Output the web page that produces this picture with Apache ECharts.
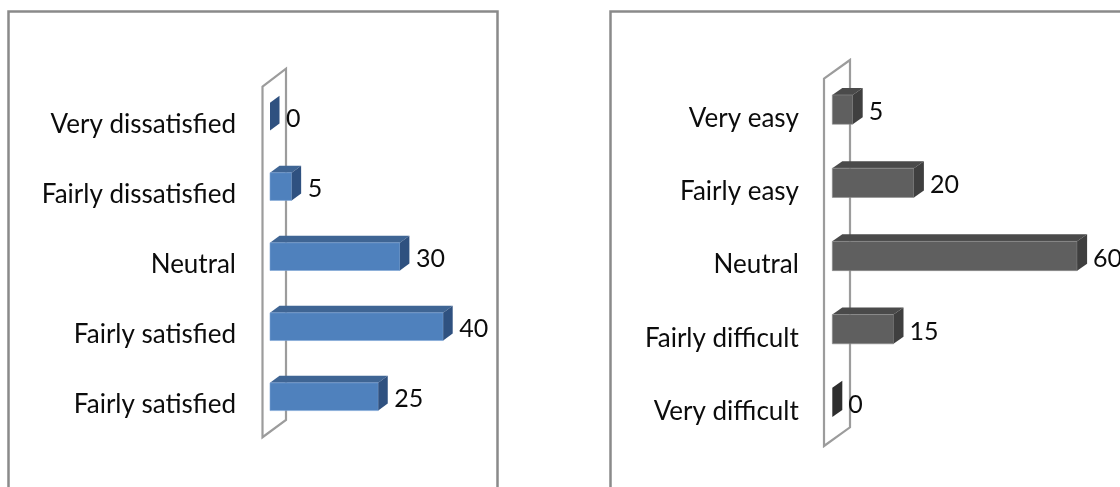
<!DOCTYPE html>
<html>
<head>
<meta charset="utf-8">
<style>
  html, body { margin: 0; padding: 0; background: #ffffff; }
  #chart { width: 1120px; height: 487px; }
</style>
<script src="https://cdn.jsdelivr.net/npm/echarts@6/dist/echarts.min.js"></script>
</head>
<body>
<div id="chart"></div>
<script>
// Satisfaction responses, listed from the top bar downwards
const satisfactionLabels = ['Very dissatisfied', 'Fairly dissatisfied', 'Neutral', 'Fairly satisfied', 'Fairly satisfied'];
const satisfactionValues = [0, 5, 30, 40, 25];

// Ease-of-use responses, listed from the top bar downwards
const easeLabels = ['Very easy', 'Fairly easy', 'Neutral', 'Fairly difficult', 'Very difficult'];
const easeValues = [5, 20, 60, 15, 0];

const FONT = 'Lato, Carlito, "Open Sans", sans-serif';
const CATEGORY_SIZE = 26;
const VALUE_SIZE = 25;
const INK = '#0c0c0c';
const WALL_COLOR = '#9c9c9c';
const FRAME_COLOR = '#8a8a8a';

const blueBars = { front: '#4f81bd', top: '#3f6594', side: '#2f5180', flat: '#2f5180', edge: '#7ea6d6' };
const greyBars = { front: '#5f5f5f', top: '#4a4a4a', side: '#3f3f3f', flat: '#2e2e2e', edge: '#8f8f8f' };

// Thin vertical "wall" the bars grow out of, sized from the plot rectangle
function wallSeries(gridIndex, wall) {
  return {
    type: 'custom',
    xAxisIndex: gridIndex,
    yAxisIndex: gridIndex,
    silent: true,
    z: 1,
    data: [[0, 0]],
    renderItem(params) {
      const r = params.coordSys;
      const fx = r.x + wall.front[0];
      const bx = r.x + wall.back[0];
      const fTop = r.y + wall.front[1];
      const bTop = r.y + wall.back[1];
      const fBot = r.y + r.height + wall.front[2];
      const bBot = r.y + r.height + wall.back[2];
      return {
        type: 'polygon',
        shape: { points: [[fx, fTop], [bx, bTop], [bx, bBot], [fx, fBot]] },
        style: { fill: '#ffffff', stroke: WALL_COLOR, lineWidth: 2.2 }
      };
    }
  };
}

// Extruded horizontal bars with a value label past the side face
function barSeries(gridIndex, values, palette, depth) {
  return {
    type: 'custom',
    xAxisIndex: gridIndex,
    yAxisIndex: gridIndex,
    silent: true,
    z: 2,
    encode: { x: 0, y: 1 },
    data: values.map((v, i) => [v, i]),
    renderItem(params, api) {
      const value = api.value(0);
      const base = api.coord([0, api.value(1)]);
      const tip = api.coord([value, api.value(1)]);
      const h = api.size([0, 1])[1] * depth.thickness;
      const y0 = base[1] - h / 2;
      const y1 = base[1] + h / 2;
      const x0 = base[0];
      const x1 = tip[0];
      const dx = depth.dx;
      const dy = depth.dy;
      const children = [];
      if (value > 0) {
        children.push({
          type: 'polygon',
          shape: { points: [[x0, y0], [x0 + dx, y0 + dy], [x1 + dx, y0 + dy], [x1, y0]] },
          style: { fill: palette.top }
        });
        children.push({
          type: 'rect',
          shape: { x: x0, y: y0, width: x1 - x0, height: y1 - y0 },
          style: { fill: palette.front, stroke: palette.edge, lineWidth: 0.6 }
        });
      }
      children.push({
        type: 'polygon',
        shape: { points: [[x1, y0], [x1 + dx, y0 + dy], [x1 + dx, y1 + dy], [x1, y1]] },
        style: { fill: value > 0 ? palette.side : palette.flat }
      });
      children.push({
        type: 'text',
        style: {
          text: String(value),
          x: x1 + dx + depth.labelGap,
          y: base[1] + depth.labelDrop,
          fill: INK,
          fontFamily: FONT,
          fontSize: VALUE_SIZE,
          align: 'left',
          verticalAlign: 'middle',
          textAlign: 'left',
          textVerticalAlign: 'middle'
        }
      });
      return { type: 'group', children };
    }
  };
}

// lineHeight with top alignment drops the label a little below the bar's centre
function categoryAxis(gridIndex, labels, margin, lineHeight) {
  return {
    type: 'category',
    gridIndex,
    data: labels,
    inverse: true,
    axisLine: { show: false },
    axisTick: { show: false },
    axisLabel: {
      margin,
      interval: 0,
      color: INK,
      fontFamily: FONT,
      fontSize: CATEGORY_SIZE,
      lineHeight,
      verticalAlign: 'top'
    }
  };
}

function valueAxis(gridIndex, max) {
  return { type: 'value', gridIndex, min: 0, max, show: false, splitLine: { show: false } };
}

const chart = echarts.init(document.getElementById('chart'), null, { renderer: 'canvas' });

chart.setOption({
  animation: false,
  backgroundColor: '#ffffff',
  grid: [
    { left: 270, top: 81.5, width: 216.5, height: 350.25 },
    { left: 832.3, top: 73, width: 265.2, height: 366 }
  ],
  xAxis: [valueAxis(0, 50), valueAxis(1, 65)],
  yAxis: [
    categoryAxis(0, satisfactionLabels, 34, 16),
    categoryAxis(1, easeLabels, 33.5, 18)
  ],
  series: [
    wallSeries(0, { front: [-7.5, 5.2, 5.5], back: [16, -12.8, -11.8] }),
    barSeries(0, satisfactionValues, blueBars, { dx: 9.5, dy: -7, thickness: 0.396, labelGap: 6.5, labelDrop: 2 }),
    wallSeries(1, { front: [-8.3, 5.7, 7], back: [17.7, -13, -11.7] }),
    barSeries(1, easeValues, greyBars, { dx: 10, dy: -7, thickness: 0.4, labelGap: 6, labelDrop: 2.5 })
  ],
  graphic: [
    {
      type: 'rect',
      silent: true,
      shape: { x: 8.5, y: 11.5, width: 489, height: 520 },
      style: { fill: 'none', stroke: FRAME_COLOR, lineWidth: 2.5 }
    },
    {
      type: 'rect',
      silent: true,
      shape: { x: 610.5, y: 11.5, width: 560, height: 520 },
      style: { fill: 'none', stroke: FRAME_COLOR, lineWidth: 2.5 }
    }
  ]
});
</script>
</body>
</html>
